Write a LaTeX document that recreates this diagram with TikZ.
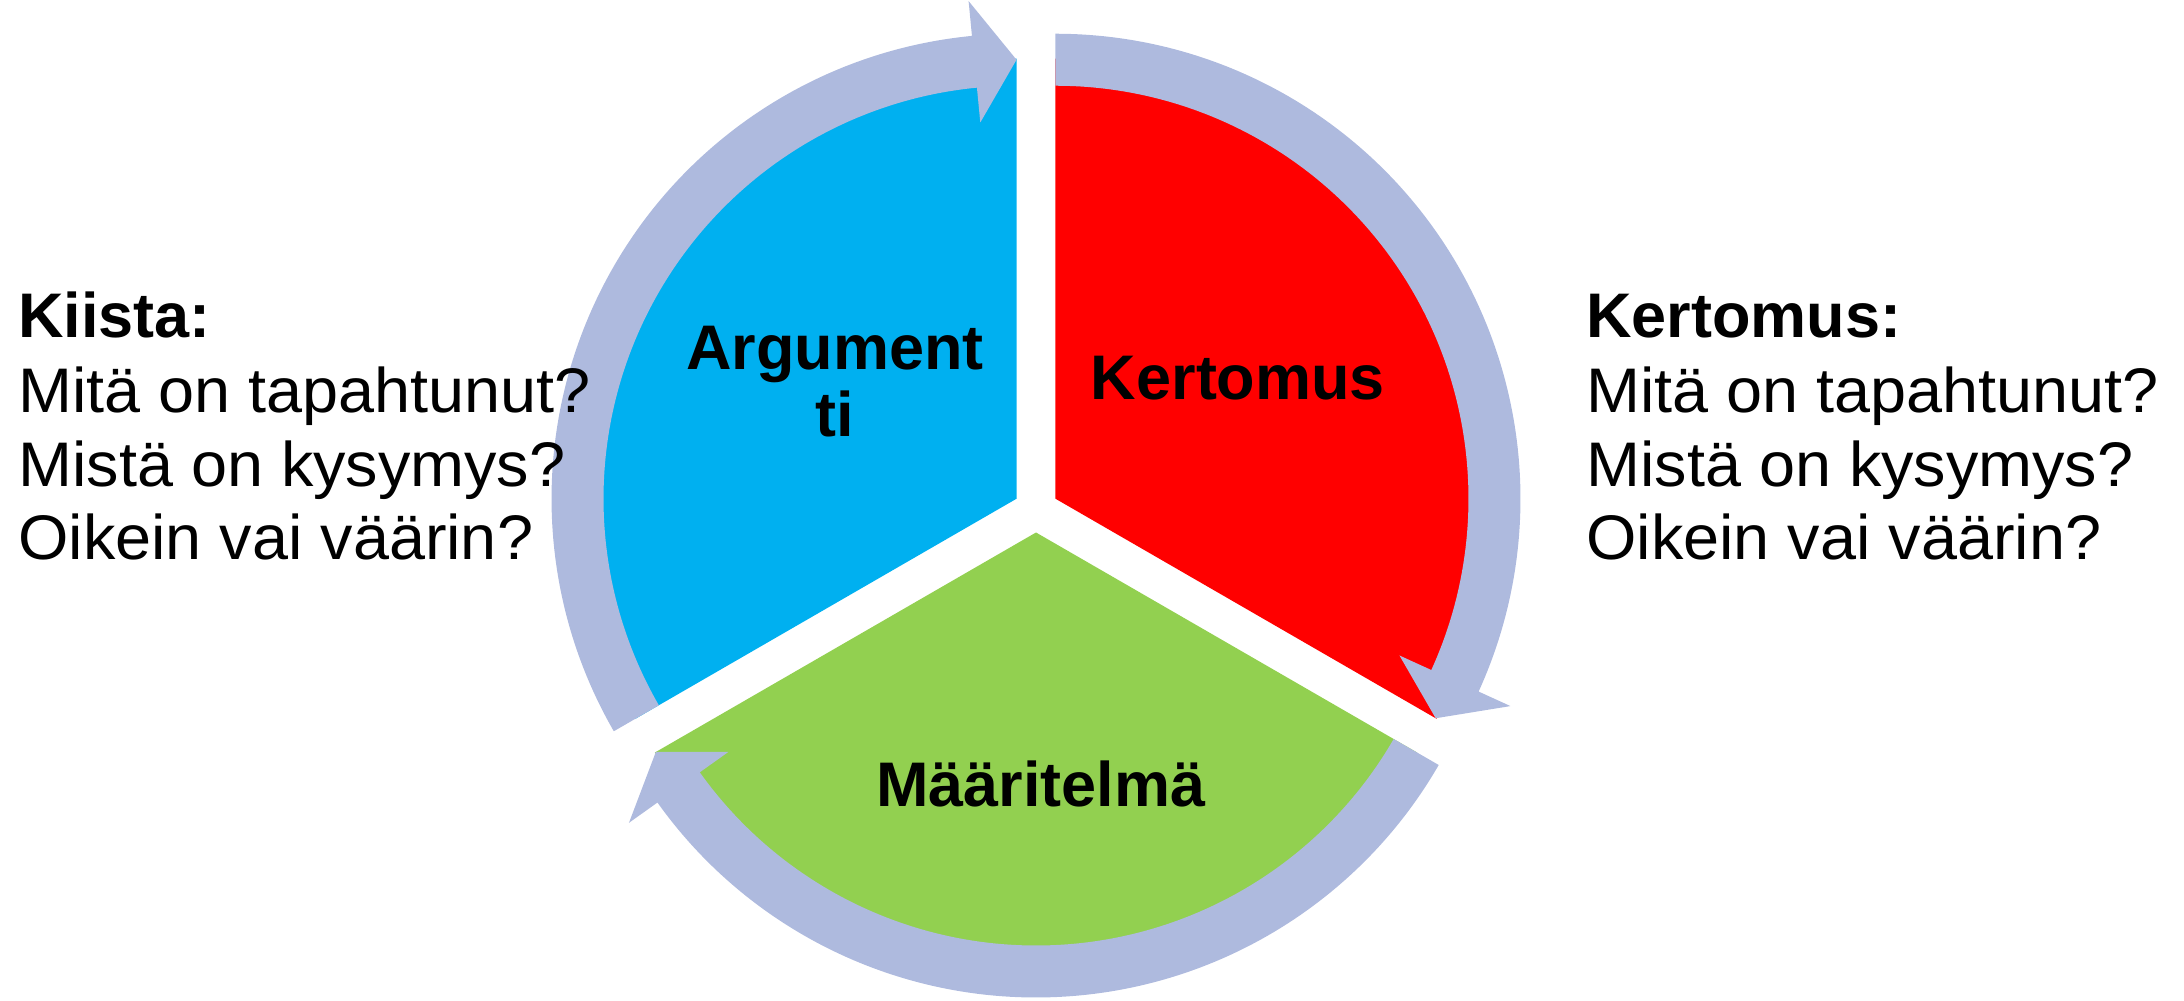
\documentclass[tikz,border=0pt]{standalone}
\usepackage{fontspec}
\setmainfont{Liberation Sans}
\newfontfamily\bodyfont[FakeStretch=1.028]{Liberation Sans}
\usetikzlibrary{calc}
\definecolor{ringc}{RGB}{174,186,222}
\definecolor{segblue}{RGB}{0,176,240}
\definecolor{segred}{RGB}{255,0,0}
\definecolor{seggreen}{RGB}{146,208,80}
\newcommand\myring[3]{%
  \begin{scope}[shift={(#1)}]
    \pgfmathsetmacro\mybase{#3+5.5}
    \fill[ringc] (#2:413) arc[start angle=#2, end angle=\mybase, radius=413]
      -- (\mybase:378) -- (#3:439) -- (\mybase:500) -- (\mybase:465)
      arc[start angle=\mybase, end angle=#2, radius=465] -- cycle;
  \end{scope}}
\begin{document}
\begin{tikzpicture}[x=0.5pt,y=0.5pt,
  txt/.style={inner sep=0pt, font=\bodyfont\fontsize{31.5}{37}\selectfont},
  lbl/.style={inner sep=0pt, font=\fontsize{31.5}{37}\selectfont\bfseries}]
\useasboundingbox (0,0) rectangle (2184,1001);
\coordinate (C) at (1036,491);
\coordinate (AB) at ($(C)+(150:22.5)$);
\coordinate (AR) at ($(C)+(30:22.5)$);
\coordinate (AG) at ($(C)+(270:22.5)$);
% sectors
\fill[segblue] (AB) -- ++(210:440) arc[start angle=210, end angle=90, radius=440] -- cycle;
\fill[segred] (AR) -- ++(90:440) arc[start angle=90, end angle=-30, radius=440] -- cycle;
\fill[seggreen] (AG) -- ++(-30:440) arc[start angle=-30, end angle=-150, radius=440] -- cycle;
% circular arrows
\myring{AB}{210}{90}
\myring{AR}{90}{-30}
\myring{AG}{-30}{-150}
% segment labels
\node[lbl, anchor=base] (arg1) at (835,631) {Argument};
\node[lbl, anchor=base] (arg2) at (835,564) {ti};
\node[lbl, anchor=base] (ker) at (1238,601) {Kertomus};
\node[lbl, anchor=base] (maa) at (1041,194) {Määritelmä};
% left text
\node[lbl, anchor=base west] (l1) at (18,663) {Kiista:};
\node[txt, anchor=base west] (l2) at (18,588) {Mitä on tapahtunut?};
\node[txt, anchor=base west] (l3) at (18,514) {Mistä on kysymys?};
\node[txt, anchor=base west] (l4) at (18,441) {Oikein vai väärin?};
% right text
\node[lbl, anchor=base west] (r1) at (1586,663) {Kertomus:};
\node[txt, anchor=base west] (r2) at (1586,588) {Mitä on tapahtunut?};
\node[txt, anchor=base west] (r3) at (1586,514) {Mistä on kysymys?};
\node[txt, anchor=base west] (r4) at (1586,441) {Oikein vai väärin?};
\end{tikzpicture}
\end{document}
